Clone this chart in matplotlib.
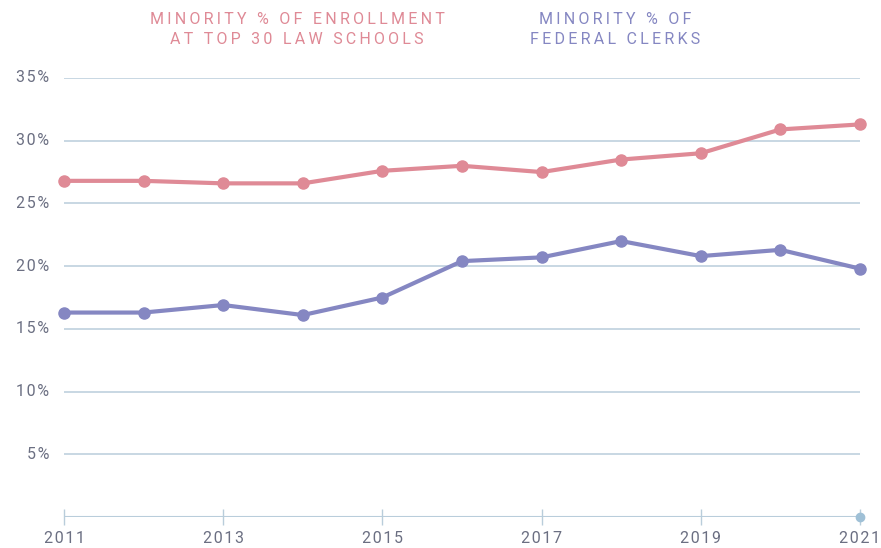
import matplotlib.pyplot as plt
import numpy as np

years = [2011, 2012, 2013, 2014, 2015, 2016, 2017, 2018, 2019, 2020, 2021]
law_school = [26.8, 26.8, 26.6, 26.6, 27.6, 28.0, 27.5, 28.5, 29.0, 30.9, 31.3]
clerks = [16.3, 16.3, 16.9, 16.1, 17.5, 20.4, 20.7, 22.0, 20.8, 21.3, 19.8]
y_ticks = [5, 10, 15, 20, 25, 30, 35]
x_ticks = [2011, 2013, 2015, 2017, 2019, 2021]

PINK = '#df8a96'
BLUE = '#8587c2'
GRID = '#b9cddb'
TEXT = '#6b6f82'


def spaced(s, gap='\u200a'):
    return gap.join(s)


def main():
    plt.rcParams['font.family'] = ['Roboto', 'DejaVu Sans']
    fig = plt.figure(figsize=(8.81, 5.48), dpi=100)
    ax = fig.add_axes([64 / 881, 1 - 517 / 548, (860 - 64) / 881, (517 - 78) / 548])

    ax.set_xlim(2011, 2021)
    ax.set_ylim(0, 35)

    for y in y_ticks:
        ax.axhline(y, color=GRID, lw=1.1, zorder=1)
        ax.text(-16 / 881, y, spaced(f'{y}%'), transform=ax.get_yaxis_transform(),
                ha='right', va='center', fontsize=11.5, color=TEXT)

    ax.plot(years, law_school, color=PINK, lw=3, marker='o', ms=8,
            clip_on=False, zorder=3)
    ax.plot(years, clerks, color=BLUE, lw=3, marker='o', ms=8,
            clip_on=False, zorder=3)

    # bottom axis line with ticks
    ax.axhline(0, color=GRID, lw=1.5, zorder=1)
    ax.plot([2021], [0], 'o', color='#9fc0d6', ms=6, clip_on=False, zorder=2)
    ax.set_xticks(x_ticks)
    ax.set_xticklabels([spaced(str(x)) for x in x_ticks])
    ax.tick_params(axis='x', direction='inout', length=12, width=1, color=GRID,
                   labelsize=11.5, labelcolor=TEXT, pad=4)
    ax.set_yticks([])
    for s in ax.spines.values():
        s.set_visible(False)

    gap = '\u200a\u200a'
    fig.text(297 / 881, 1 - 19 / 548, spaced('MINORITY % OF ENROLLMENT', gap),
             ha='center', va='center', fontsize=11.5, color=PINK)
    fig.text(297 / 881, 1 - 39 / 548, spaced('AT TOP 30 LAW SCHOOLS', gap),
             ha='center', va='center', fontsize=11.5, color=PINK)
    fig.text(615 / 881, 1 - 19 / 548, spaced('MINORITY % OF', gap),
             ha='center', va='center', fontsize=11.5, color=BLUE)
    fig.text(615 / 881, 1 - 39 / 548, spaced('FEDERAL CLERKS', gap),
             ha='center', va='center', fontsize=11.5, color=BLUE)

    fig.savefig('out.png', dpi=100)


if __name__ == "__main__":
    main()
